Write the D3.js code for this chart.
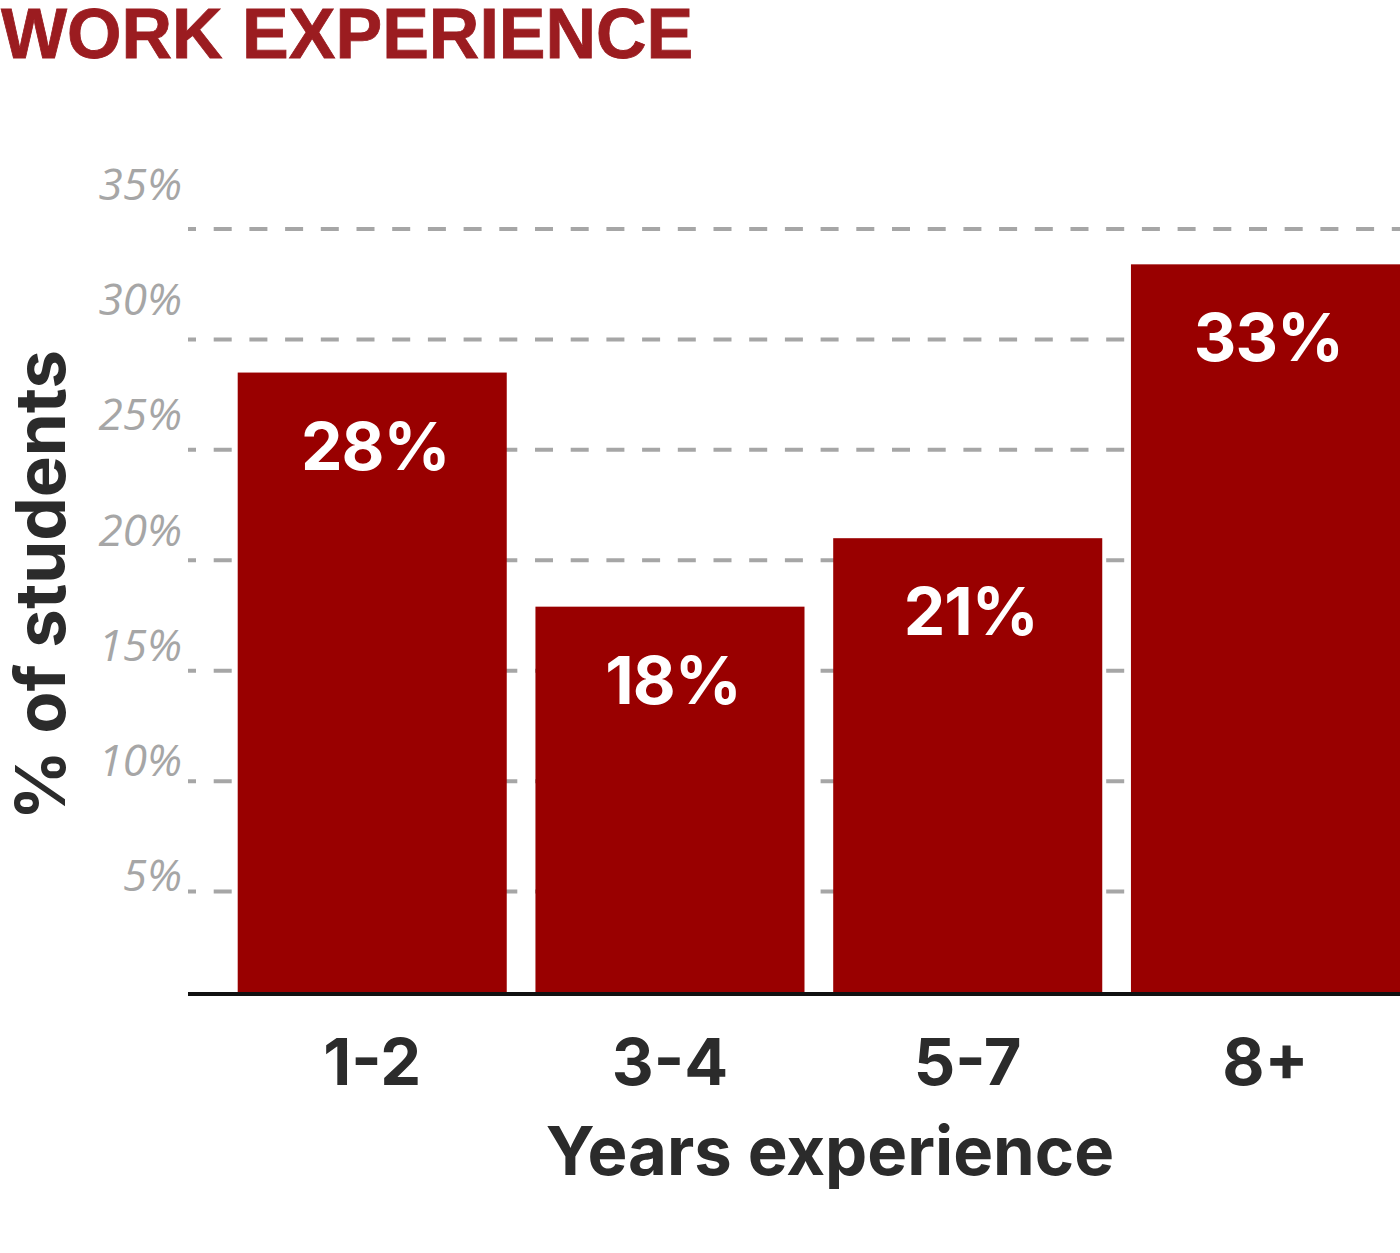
<!DOCTYPE html>
<html>
<head>
<meta charset="utf-8">
<script src="https://cdn.jsdelivr.net/npm/d3@7"></script>
<style>
  html, body { margin: 0; padding: 0; background: #fff; }
  svg { display: block; }
</style>
</head>
<body>
<svg id="chart" width="1400" height="1253"></svg>
<script>
// ---- data ----
const categories = ["1-2", "3-4", "5-7", "8+"];
const values = [28.5, 17.9, 21.0, 33.4];
const valueLabels = ["28%", "18%", "21%", "33%"];
const tickValues = [5, 10, 15, 20, 25, 30, 35];
const tickLabels = ["5%", "10%", "15%", "20%", "25%", "30%", "35%"];
const title = "WORK EXPERIENCE";
const xTitle = "Years experience";
const yTitle = "% of students";

// ---- layout ----
const svg = d3.select("#chart");
const W = 1400;
const BAR = "#990000";
const DARK = "#2b2b2b";
const GRID = "#a6a6a6";
const BOLD = "Inter, 'Open Sans', sans-serif";

const y = d3.scaleLinear().domain([0, 35]).range([1002, 229]);
const x = d3.scaleBand().domain(categories).range([237.7, 1400]).paddingInner(0.0964).paddingOuter(0);
const labelY = d3.scaleLinear().domain([5, 35]).range([891, 200]);
const axisY = 994;

// title
svg.append("text")
  .attr("x", 1).attr("y", 58)
  .attr("font-family", "'Liberation Sans', Arial, sans-serif")
  .attr("font-weight", 700).attr("font-size", 70)
  .attr("fill", "#9b1c20")
  .attr("stroke", "#9b1c20").attr("stroke-width", 0.8)
  .text(title);

// gridlines
svg.append("g").selectAll("line").data(tickValues).join("line")
  .attr("x1", 188).attr("x2", W)
  .attr("y1", d => y(d)).attr("y2", d => y(d))
  .attr("stroke", GRID).attr("stroke-width", 4)
  .attr("stroke-dasharray", "18,17.7").attr("stroke-dashoffset", 10);

// tick labels
svg.append("g").selectAll("text").data(tickValues).join("text")
  .attr("x", 182).attr("y", d => labelY(d))
  .attr("text-anchor", "end")
  .attr("font-family", "'Open Sans', sans-serif")
  .attr("font-style", "italic").attr("font-weight", 400)
  .attr("font-size", 44).attr("fill", GRID)
  .text((d, i) => tickLabels[i]);

// bars
svg.append("g").selectAll("rect").data(values).join("rect")
  .attr("x", (d, i) => x(categories[i]))
  .attr("width", x.bandwidth())
  .attr("y", d => y(d))
  .attr("height", d => axisY - 2 - y(d))
  .attr("fill", BAR);

// bar labels
svg.append("g").selectAll("text").data(values).join("text")
  .attr("x", (d, i) => x(categories[i]) + x.bandwidth() / 2 + 3)
  .attr("y", d => y(d) + 97)
  .attr("text-anchor", "middle")
  .attr("font-family", BOLD).attr("font-weight", 700)
  .attr("font-size", 66).attr("letter-spacing", -1).attr("fill", "#fff")
  .text((d, i) => valueLabels[i]);

// x axis line
svg.append("line")
  .attr("x1", 188).attr("x2", W)
  .attr("y1", axisY).attr("y2", axisY)
  .attr("stroke", "#111").attr("stroke-width", 4);

// x category labels
svg.append("g").selectAll("text").data(categories).join("text")
  .attr("x", d => x(d) + x.bandwidth() / 2)
  .attr("y", 1085)
  .attr("text-anchor", "middle")
  .attr("font-family", BOLD).attr("font-weight", 700)
  .attr("font-size", 65).attr("fill", DARK)
  .text(d => d);

// x title
svg.append("text")
  .attr("x", 830).attr("y", 1175)
  .attr("text-anchor", "middle")
  .attr("font-family", BOLD).attr("font-weight", 700)
  .attr("font-size", 67).attr("fill", DARK)
  .text(xTitle);

// y title
svg.append("text")
  .attr("transform", "translate(65,585) rotate(-90)")
  .attr("text-anchor", "middle")
  .attr("font-family", BOLD).attr("font-weight", 700)
  .attr("font-size", 69).attr("fill", DARK)
  .text(yTitle);
</script>
</body>
</html>
